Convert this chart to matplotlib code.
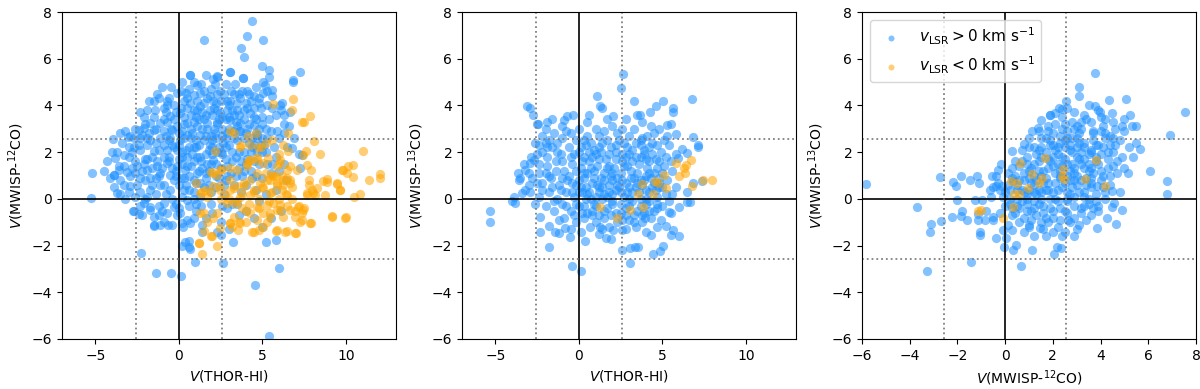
import matplotlib.pyplot as plt
from matplotlib.ticker import MultipleLocator
import numpy as np

# ---- panel 1: V(THOR-HI) vs V(MWISP-12CO) ----
hi_co12_pos = [
    (0.64,5.31),(1.64,5.31),(2.27,5.24),(3.03,5.43),(3.83,5.17),
    (1.08,4.89),(2.17,4.93),(3.37,4.93),(-1.02,4.81),(-0.12,4.53),
    (0.44,4.53),(0.88,4.46),(1.28,4.53),(1.87,4.39),(2.47,4.6),(4.07,4.6),(4.47,4.39),
    (-1.22,4.31),(-0.72,4.17),(0.28,4.17),(0.68,4.1),(1.48,4.1),(2.07,4.17),(3.07,4.17),(3.67,4.31),
    (-2.31,3.7),(-1.42,3.81),(-0.92,3.89),(-0.52,3.53),(0.08,3.67),(0.88,3.81),(1.28,3.96),(1.87,3.81),
    (2.47,3.67),(2.87,3.81),(3.47,3.81),(4.27,3.67),
    (-1.71,3.24),(-1.12,3.24),(-0.72,3.31),(-0.12,3.1),(0.48,3.24),(1.08,3.1),(1.67,3.24),(2.27,3.31),
    (3.07,3.39),(3.67,3.24),(4.47,3.17),
    (-2.41,2.96),(-2.11,3.03),(-1.52,2.96),(-0.92,2.89),(-0.42,2.96),(0.48,2.74),(1.28,2.74),(2.17,2.81),
    (3.67,2.89),(4.67,2.74),
    (-3.95,2.57),(-2.71,2.6),(-2.21,2.74),(-1.71,2.53),(-1.12,2.6),(-0.52,2.6),(0.08,2.53),(0.88,2.24),
    (1.87,2.31),(2.67,2.39),
    (-3.81,1.74),(-3.31,1.86),(-2.71,2.24),(-2.31,2.1),(-1.91,2.31),(-1.52,2.03),(-0.72,2.1),(-0.12,2.1),
    (0.48,1.81),(1.28,1.81),(2.07,1.67),
    (-3.61,1.24),(-3.11,1.17),(-2.51,1.39),(-1.91,1.24),(-1.32,1.39),(-0.72,1.53),(-0.12,1.39),(0.38,1.24),(1.08,1.1),
    (-3.87,1.03),(-3.51,0.81),(-2.91,0.96),(-2.31,0.89),(-1.71,0.89),(-1.12,1.1),(-0.52,1.03),(0.28,0.89),(1.28,0.67),
    (-3.71,0.24),(-2.91,0.53),(-2.31,0.31),(-1.71,0.39),(-1.12,0.6),(-0.52,0.39),(0.28,0.39),(0.88,0.31),
    (-2.11,-0.19),(-1.71,-0.33),(-0.92,-0.19),(-0.32,-0.33),(0.48,-0.04),(1.28,0.1),
    (-2.71,-0.54),(-2.21,-0.69),(-1.52,-0.76),(-0.72,-0.61),(0.08,-0.61),(0.48,-0.9),
    (-1.52,-1.11),(-0.92,-0.97),(-0.42,-1.11),(0.18,-1.04),(0.68,-1.04),
    (0.38,-1.83),(0.58,-2.04),
    (4.35,7.6),(1.48,6.8),(4.09,6.96),(5.04,6.8),(3.69,6.46),(3.89,6.07),(4.99,5.7),(5.42,5.5),(5.42,5.23),
    (7.24,5.43),(6.82,5.1),(6.82,5.0),(3.05,5.41),(0.66,5.3),(2.07,5.14),(2.31,5.21),(3.85,5.17),(5.06,4.99),
    (5.16,4.89),(5.06,4.53),(5.56,4.39),(6.16,4.1),(-3.05,2.64),(-5.22,1.11),(-5.24,0.03),(-3.9,1.03),
    (-3.55,0.2),(-2.77,-0.5),(-2.37,-0.64),(-1.73,-0.47),(-2.27,-2.33),(-1.36,-3.19),(-0.46,-3.16),
    (0.14,-3.29),(0.96,-2.69),(2.63,-2.74),(4.55,-3.7),(6.02,-2.96),(5.42,-5.86),(5.24,-1.86),(5.8,-1.76),
    (3.21,-1.86),(2.55,-1.56),(0.64,-2.16),(0.16,-2.0),(0.58,-1.81),(-1.5,-1.16),(-1.12,-1.13),
    (-0.66,-1.13),(0.24,-1.21),(1.36,-1.13),(1.38,-1.43),
    (5.56,4.67),(6.06,4.03),(6.66,3.74),(6.76,2.17),(7.36,1.89),(7.26,1.31),(4.8,4.3),(5.3,4.0),(5.8,3.6),
    (6.3,3.2),(5.0,3.5),(4.5,3.9),(4.0,4.1),(3.3,4.5),(2.8,4.9),(3.0,3.0),(3.5,2.5),(4.0,2.8),(4.5,2.3),
    (5.0,2.6),(5.5,2.9),(6.0,2.6),(6.5,2.2),(5.2,2.0),(5.8,1.8),(3.2,2.0),(3.7,1.6),(4.3,1.2),(4.8,1.5),
    (2.6,1.9),(2.9,1.4),(3.4,1.0),(4.0,0.6),(4.6,0.4),(5.2,0.2),(3.5,-0.2),(4.0,-0.5),(4.5,-0.8),(5.0,-1.2),
    (5.5,-0.8),(6.1,-0.5),(2.0,-0.6),(2.5,-1.0),(3.0,-1.3),(2.2,0.5),(2.7,0.2),(1.8,1.2),(1.5,0.5),(2.4,3.4),
    (3.2,3.8),(3.9,3.4),(4.8,3.0),(5.4,3.4),(6.1,3.8),(2.5,4.2),(1.5,4.6),(1.0,3.5),(0.2,2.9),(0.6,2.2),
    (1.5,2.5),(2.3,2.0),(0.0,1.7),(-0.3,0.8),(0.2,0.1),(0.6,-0.3),(1.0,-0.5),(1.6,-0.8),(2.9,-0.4),(3.3,0.6),
    (6.6,3.1),(6.9,2.6),(7.2,1.9),(6.0,1.2),(5.5,1.1),(6.4,0.8),
    (-0.8,3.7),(-0.3,4.0),(0.3,3.5),(0.7,3.0),(1.2,3.4),(1.7,3.0),(2.0,3.6),(2.6,3.0),(3.3,2.6),(-1.4,2.4),
    (-0.9,1.8),(-0.4,2.3),(0.2,2.0),(0.9,1.6),(1.6,1.9),(2.2,2.6),(2.8,2.2),(-1.3,1.6),(-0.4,1.3),(0.6,1.0),
    (1.4,1.3),(-2.0,1.7),(-2.6,1.6),(-3.0,1.8),(-2.2,1.2),(-1.6,0.6),(-0.8,0.2),(0.0,0.6),(0.9,0.0),(1.9,0.3),
    (-3.3,0.6),(-2.6,0.1),(-1.2,-0.3),(-0.2,-0.2),(1.1,3.8),(0.5,4.3),(1.9,4.7),(2.9,4.2),(3.6,3.6),(4.2,3.2),
    (4.4,2.6),(3.9,2.0),(-1.8,4.2),(-1.5,3.5),(-2.0,3.2),(-2.6,3.0),(-3.4,2.4),(-3.7,2.0),(-4.3,1.6),
    (-1.9,3.8),(-1.3,4.5),(-0.5,4.8),(0.1,4.6),(0.9,5.0),(1.6,3.6),(2.3,3.8),(2.7,4.5),(3.4,3.3),(4.1,3.9),
    (-2.8,2.0),(-2.3,2.6),(-1.8,2.8),(-1.2,2.1),(-0.6,2.5),(0.3,2.6),(0.8,2.8),(1.2,2.3),(1.9,2.7),(2.4,2.2),
    (-2.6,1.1),(-1.9,1.7),(-1.0,1.3),(-0.6,1.8),(0.2,1.5),(0.7,1.4),(1.1,1.8),(1.7,1.5),(2.2,1.5),(2.6,2.7),
    (-2.5,0.6),(-2.0,0.8),(-1.4,0.9),(-0.9,0.6),(-0.2,1.0),(0.4,0.6),(1.0,0.7),(1.6,0.9),(2.4,0.9),(2.9,1.0),
    (-3.0,0.3),(-1.9,0.1),(-1.4,0.2),(-0.4,0.0),(0.6,0.4),(1.3,-0.3),(1.9,-0.2),(2.6,-0.3),(3.2,-0.2),(3.7,0.3),
    (3.6,2.9),(4.3,2.0),(4.9,2.3),(5.3,1.5),(3.9,1.2),(4.4,0.9),(5.0,0.9),(3.1,4.6),(4.6,4.8),(5.3,4.6),
    (-3.2,2.9),(-3.6,1.4),(-4.1,0.9),(-2.3,-0.3),(-1.2,-0.7),(-0.1,-0.7),(0.9,-0.8),(2.3,-1.4),(3.6,-0.7),(4.8,-0.1),
    (3.8,4.6),(4.3,4.2),(4.9,3.9),(5.6,3.9),(6.3,3.6),(5.9,2.9),(5.0,2.0),(4.6,3.4),(3.0,3.5),(2.2,4.1),
    (1.3,4.9),(0.2,5.0),(-0.6,4.3),(-1.5,4.2),(-2.1,3.5),(-2.9,2.7),(-3.5,2.8),(-3.0,2.2),(-4.0,2.0),(-4.5,1.2),
    (-3.9,0.5),(-3.2,0.0),(-2.0,0.0),(-1.0,-0.5),(0.0,-0.4),(1.0,-0.2),(1.8,0.6),(2.7,0.6),(3.6,1.3),(4.1,1.7),
    (4.6,1.0),(5.6,1.5),(5.8,0.4),(6.3,1.5),(6.3,2.8),(5.7,2.2),(3.2,1.6),(2.0,2.2),(1.0,2.5),(0.0,2.3),
    (-0.9,2.3),(-1.6,1.3),(-0.3,3.4),(0.7,3.6),(1.4,3.0),(2.1,3.0),(2.8,3.4),(3.5,4.1),(4.6,2.8),(5.2,3.0),
    (-0.7,4.0),(0.1,3.9),(0.6,4.7),(1.1,4.2),(1.7,4.3),(2.3,4.5),(3.0,4.0),(3.6,4.5),(4.2,4.5),(4.8,4.1),
    (-0.9,3.4),(-0.2,3.7),(0.5,3.9),(1.4,3.7),(2.1,3.9),(2.6,3.5),(3.3,3.6),(3.9,3.8),(4.5,3.5),(5.0,3.2),
    (-0.5,3.0),(0.3,3.2),(0.9,3.3),(1.5,3.4),(2.3,3.2),(2.9,2.8),(3.5,3.1),(4.1,3.0),(4.7,2.6),(5.3,2.6),
    (-0.8,2.7),(0.0,2.8),(0.7,2.6),(1.6,2.7),(2.0,2.5),(2.8,2.6),(3.3,2.9),(3.9,2.6),(4.4,2.2),(5.1,2.3),
    (-0.3,2.2),(0.4,2.1),(1.0,2.2),(1.8,2.1),(2.5,2.0),(3.0,2.3),(3.6,2.0),(4.2,2.4),(4.7,2.0),
    (-0.6,1.6),(0.2,1.8),(0.8,1.9),(1.3,1.6),(2.0,1.9),(2.8,1.7),(3.4,1.8),(4.0,1.5),(4.5,1.6),
    (-0.2,1.2),(0.5,1.4),(1.2,1.2),(1.9,1.5),(2.5,1.3),(3.1,1.1),(3.8,1.0),(0.1,0.9),(0.9,0.8),(1.6,1.1),
    (2.2,1.0),(2.8,0.8),(-1.4,3.0),(-1.9,2.6),(-2.4,2.3),(-1.6,1.8),(-2.1,1.5),(-1.2,1.0),(-2.8,1.3),(-3.3,1.4),
]
hi_co12_neg = [
    (11.0,2.07),(12.05,1.07),(12.05,0.91),(11.41,0.79),(10.45,0.93),(10.15,1.41),(10.4,1.46),(9.79,1.24),
    (10.05,1.1),(9.65,0.39),(9.45,0.63),(10.85,0.2),(10.51,0.1),(9.99,-0.79),(9.15,-0.73),(8.75,0.17),
    (8.89,0.86),(8.65,0.77),(8.45,1.9),(7.86,3.56),(7.5,3.31),(7.36,3.27),(6.8,3.79),(6.82,4.27),(5.66,4.07),
    (8.06,2.49),(7.62,2.03),(7.42,1.87),(7.66,1.46),(7.92,1.24),(7.8,0.81),(7.8,0.6),(7.96,0.39),(7.7,0.17),
    (8.14,0.17),(7.52,-0.4),(7.22,-0.3),(7.36,-0.61),(6.96,-0.54),(7.92,-1.04),(7.26,-1.01),(6.94,-1.47),
    (6.46,-1.37),(5.8,-1.36),(6.26,-0.76),(6.06,-0.26),(5.66,-0.19),(6.66,1.39),(7.06,1.24),(6.56,2.03),
    (6.26,2.31),(6.56,2.81),(6.06,1.67),(5.86,1.39),(5.66,0.96),(6.26,0.81),(6.66,0.67),(4.27,0.81),
    (3.87,0.67),(3.47,0.53),(3.07,0.39),(3.17,-1.19),(3.67,-1.04),(4.47,-1.4),(4.67,-0.9),(5.06,-1.19),
    (5.46,-0.61),(5.86,-0.47),(3.27,2.81),(3.67,2.24),(4.17,1.67),(4.67,1.81),(5.06,1.53),(5.36,1.74),
    (1.04,0.67),(1.38,0.29),(1.28,-0.61),(1.2,-1.9),(1.36,-2.36),(2.27,-2.0),(1.93,-1.61),(1.52,-1.36),
    (2.19,2.03),(3.07,2.89),(2.61,1.27),(3.03,1.31),(1.93,1.17),(2.27,1.03),(2.07,0.53),(2.47,0.39),
    (1.67,0.1),(2.87,-0.19),(3.27,-0.76),(3.07,-1.04),(3.51,-1.33),(4.11,2.67),(4.59,2.81),(4.27,2.31),
    (4.71,2.24),(4.07,1.53),(4.67,1.67),(3.69,2.29),
    (5.0,0.5),(5.3,0.8),(5.6,0.3),(5.9,0.6),(6.2,0.4),(6.5,0.9),(6.8,0.5),(5.2,1.1),(5.8,1.0),(6.4,0.2),
    (4.5,0.3),(4.8,0.0),(3.8,0.2),(4.2,-0.2),(5.4,-0.1),(6.0,0.0),(6.8,0.0),(2.5,0.0),(3.0,0.0),(3.5,-0.1),
    (2.3,-0.6),(4.0,-0.5),(4.8,-0.4),(6.5,-0.3),(5.2,2.4),(5.6,2.5),(4.9,2.2),(6.0,1.9),
    (1.18,-1.9),(1.48,-0.61),(1.67,-0.97),(1.97,-1.61),(2.07,-0.83),(2.47,-1.26),(3.07,-1.04),(3.57,-0.97),
    (3.99,-0.97),(4.37,-1.4),(4.77,-1.33),(5.06,-0.61),(5.26,-0.97),(5.86,-1.33),(6.36,-1.4),(7.02,-1.47),
    (6.96,-0.76),(7.36,-0.9),(7.86,-1.04),(7.46,-0.47),(9.15,-0.76),(9.95,-0.83),(5.46,-0.76),(4.27,-0.61),
    (3.77,-0.4),(3.37,-0.19),(4.67,-0.33),(6.06,-0.47),(6.66,-0.47),(7.16,-0.33),(1.28,0.24),(1.87,0.31),
    (2.47,0.53),(3.27,0.46),(3.87,0.53),(4.47,0.39),(5.06,0.46),(5.46,0.81),(5.86,0.67),(6.26,0.6),
    (5.56,1.03),(6.16,0.96),(6.66,0.81),(6.46,1.24),(6.06,1.53),(7.66,0.24),(8.05,0.24),(8.25,0.46),
    (8.85,0.74),(9.45,0.67),(9.65,0.39),(9.85,1.24),(3.47,1.24),(4.07,1.39),(4.67,1.1),(4.27,1.67),
    (2.47,1.24),(2.07,1.1),(3.07,0.81),(3.67,0.1),(4.27,0.17),(5.46,0.24),(6.46,0.17),(4.87,0.67),
    (1.58,0.39),(2.77,0.17),(5.26,-0.26),
]

# ---- panel 2: V(THOR-HI) vs V(MWISP-13CO) ----
hi_co13_pos = [
    (2.63,5.36),(2.55,4.76),(1.08,4.39),(1.24,3.99),(1.36,3.89),(3.27,4.17),(5.02,4.21),(4.63,3.96),
    (4.23,3.74),(3.67,3.6),(5.66,3.89),(5.66,3.7),(5.3,3.17),(6.76,4.27),(6.82,2.64),(7.16,2.31),(7.12,2.24),
    (-3.11,3.96),(-2.91,3.89),(-2.75,3.6),(2.07,3.53),(0.62,3.6),(-0.72,3.53),(-0.36,3.6),(-0.92,3.39),
    (-1.62,3.41),(-1.91,3.31),(-2.47,3.21),
    (-5.34,-0.51),(-5.34,-1.01),(-3.99,-0.11),(-3.81,-0.19),(-3.9,0.1),(-3.41,0.27),(-3.61,0.81),(-3.67,1.1),
    (-3.21,1.24),(-2.87,1.81),(-2.91,1.53),(-2.71,1.67),(-2.41,2.29),(-1.91,2.24),(-2.31,-0.76),(-2.35,-1.43),
    (-1.81,-1.16),(-1.81,-2.04),(-1.42,-1.4),(-1.22,-1.47),(-0.82,-1.26),(-0.56,-1.64),(-0.42,-2.86),
    (0.1,-3.11),(0.34,-1.79),(1.2,-1.51),(1.62,-1.66),(1.91,-1.73),(2.61,-2.21),(3.03,-2.11),(3.07,-2.73),
    (3.33,-2.04),(3.51,-2.07),(4.43,-2.36),(4.83,-2.23),(5.02,-2.0),(4.31,-1.54),(5.22,-1.16),(5.52,-1.54),
    (5.62,-1.33),(6.0,-1.57),(5.4,-0.57),(5.98,-0.36),(6.66,-0.14),(6.46,-0.14),(6.5,0.31),(6.82,0.67),
    (7.36,0.77),(5.96,1.74),(6.46,1.96),(6.16,2.13),(5.82,2.77),(1.24,-1.21),(0.68,-1.19),(2.07,-1.33),
    (2.59,-1.33),(3.27,-1.01),(3.97,-0.83),(4.67,-1.19),
    (-2.5,3.2),(-2.0,3.0),(-1.5,2.8),(-1.0,2.6),(-0.5,2.8),(-0.2,2.5),(0.5,2.7),(1.0,3.0),(1.5,2.9),(2.0,3.1),
    (2.8,3.4),(3.3,3.0),(3.8,3.3),(4.3,3.1),(4.8,3.0),(5.3,2.7),
    (-2.6,2.4),(-2.2,2.0),(-1.6,2.2),(-1.1,1.9),(-0.6,2.2),(0.0,2.0),(0.4,2.3),(0.9,2.1),(1.4,2.4),(1.9,2.2),
    (2.4,2.5),(2.9,2.2),(3.4,2.4),(3.9,2.1),(4.4,2.4),(4.9,2.0),(5.4,2.3),(5.8,1.9),
    (-3.3,1.5),(-2.4,1.5),(-1.9,1.4),(-1.4,1.6),(-0.9,1.2),(-0.4,1.5),(0.1,1.3),(0.6,1.6),(1.1,1.4),(1.6,1.7),
    (2.1,1.3),(2.6,1.6),(3.1,1.2),(3.6,1.5),(4.1,1.3),(4.6,1.7),(5.1,1.4),(5.6,1.2),
    (-3.5,0.9),(-2.8,0.9),(-2.2,0.7),(-1.7,0.9),(-1.2,0.6),(-0.7,0.8),(-0.2,0.6),(0.3,0.9),(0.8,0.7),(1.3,0.9),
    (1.8,0.6),(2.3,0.9),(2.8,0.7),(3.3,0.9),(3.8,0.6),(4.3,0.9),(4.8,0.5),(5.3,0.8),
    (-2.9,0.3),(-2.4,0.1),(-1.8,0.3),(-1.3,0.0),(-0.8,0.3),(-0.3,0.1),(0.2,0.3),(0.7,0.0),(1.2,0.3),(1.7,0.1),
    (2.2,0.4),(2.7,0.1),(3.2,0.3),(3.7,0.0),(4.2,0.3),(4.7,0.1),(5.2,0.2),(5.8,0.5),
    (-2.0,-0.3),(-1.5,-0.5),(-1.0,-0.2),(-0.5,-0.5),(0.0,-0.3),(0.5,-0.6),(1.0,-0.3),(1.5,-0.5),(2.0,-0.2),
    (2.5,-0.6),(3.0,-0.3),(3.5,-0.5),(4.0,-0.2),(4.5,-0.5),(5.0,-0.3),(5.5,-0.6),
    (-1.2,-0.9),(-0.2,-1.0),(0.3,-0.8),(1.0,-1.0),(1.5,-0.8),(2.3,-1.0),(3.0,-0.9),(3.8,-1.0),(4.3,-0.8),(4.9,-0.9),
    (0.3,1.8),(1.0,1.9),(1.8,1.9),(2.6,1.9),(3.4,1.8),(4.0,1.7),(0.5,1.1),(1.5,1.1),(2.5,1.1),(3.5,1.1),
    (4.5,1.1),(0.4,0.5),(1.4,0.5),(2.4,0.5),(3.4,0.5),(4.4,0.5),(1.0,0.1),(2.0,-0.1),(3.0,0.0),(4.0,0.0),
    (-1.0,3.1),(0.0,3.0),(1.7,3.4),(2.3,2.8),(3.0,2.7),(3.8,2.6),(4.5,2.8),(5.1,2.5),(-2.2,2.7),(-1.3,2.4),
    (-0.3,1.9),(0.6,2.0),(1.3,2.0),(2.2,2.0),(3.0,1.9),(3.7,2.3),(4.4,1.9),(5.2,1.8),(-2.0,1.1),(-1.4,1.2),
    (-0.6,1.0),(0.0,0.8),(0.9,1.2),(1.9,1.0),(2.9,1.4),(4.0,1.0),(5.0,1.1),(-1.6,0.5),(-0.4,0.3),(0.5,0.2),
    (1.5,0.2),(2.5,0.3),(3.6,0.3),(4.6,0.4),(5.4,-0.1),(-0.8,-0.3),(0.3,-0.3),(1.2,-0.7),(2.2,-0.6),(3.3,-0.7),
    (4.2,-0.5),(-2.6,-0.2),(-3.0,0.6),(-2.4,1.1),(0.1,-1.4),(1.8,-1.2),(2.8,-1.3),(4.0,-1.4),(-0.5,-1.3),(5.0,0.5),
    (-1.8,2.5),(-0.8,2.9),(0.3,2.5),(1.2,2.7),(2.6,3.0),(3.5,3.6),(4.1,2.7),(5.5,3.2),(-3.0,1.1),(-2.5,1.9),
    (-1.0,1.6),(0.8,1.8),(1.8,1.4),(2.8,1.8),(3.9,1.9),(4.8,1.6),(5.5,1.6),(-2.2,0.4),(-1.1,0.4),(0.0,0.3),
    (1.1,0.6),(2.0,0.8),(3.0,0.5),(3.9,0.8),(4.8,0.9),(-1.5,-0.1),(-0.3,-0.7),(0.8,-0.5),(1.9,-0.7),(2.8,-0.4),
    (3.8,-0.7),(4.7,-0.2),(5.6,0.2),(-0.9,-0.8),(2.6,-0.9),(1.4,-1.3),(3.4,-1.2),(-3.2,0.4),(-1.9,1.8),(0.5,3.3),
    (0.1,2.2),(0.7,2.4),(1.2,2.2),(1.7,2.5),(2.2,2.3),(2.7,2.4),(3.2,2.1),(3.7,2.5),(4.2,2.2),(4.7,2.3),
    (-0.5,1.8),(0.2,1.6),(0.7,1.3),(1.2,1.7),(1.7,1.3),(2.2,1.7),(2.7,1.4),(3.2,1.6),(3.7,1.8),(4.2,1.6),(4.7,1.3),
    (-0.2,1.2),(0.3,1.1),(0.9,0.9),(1.5,0.8),(2.0,1.1),(2.6,0.8),(3.1,0.9),(3.7,0.8),(4.2,1.1),(4.8,0.7),
    (-0.4,0.7),(0.1,0.5),(0.6,0.3),(1.2,0.5),(1.8,0.3),(2.3,0.6),(2.9,0.3),(3.5,0.7),(4.0,0.4),(4.5,0.7),
    (-0.2,-0.2),(0.4,0.0),(0.9,-0.2),(1.4,0.0),(2.0,0.2),(2.5,-0.2),(3.2,-0.1),(3.7,-0.3),(4.2,-0.1),(4.7,-0.4),
    (0.2,-0.6),(0.8,-0.7),(1.7,-0.4),(2.8,-0.7),(3.9,-0.6),(-1.3,2.0),(-1.8,1.0),(-2.5,0.7),(-2.0,2.4),(-1.0,0.9),
]
hi_co13_neg = [
    (5.82,1.53),(6.72,1.66),(6.42,1.43),(6.3,1.31),(6.36,1.1),(6.02,0.96),(7.46,0.81),(7.98,0.81),(6.76,0.56),
    (5.12,1.03),(4.73,0.7),(4.57,0.77),(3.77,0.64),(5.22,0.46),(4.41,0.2),(3.53,0.2),(1.26,-0.37),(3.83,-0.37),
    (3.03,-0.47),(2.27,-0.84),
]

# ---- panel 3: V(MWISP-12CO) vs V(MWISP-13CO) ----
co12_co13_pos = [
    (-5.83,0.64),(-3.68,-0.37),(-3.29,-3.11),(-3.17,-1.4),(-3.11,-1.07),(-2.69,-0.93),(-2.73,0.93),(-2.24,-0.79),
    (-2.17,0.74),(-2.07,0.56),(-2.03,-0.07),(-1.86,0.99),(-1.82,-0.54),(-1.85,-0.73),(-1.58,-0.9),(-1.47,0.79),
    (-1.43,-2.71),(-1.26,-0.07),(-1.19,1.0),(-1.08,0.67),(-0.98,-0.04),(-1.12,-0.9),(-1.05,-1.4),(-1.05,-1.54),
    (-1.15,-0.64),(-0.84,-0.9),(-0.63,0.36),(-0.56,0.96),(-0.52,-0.76),(-0.38,-1.69),(-0.28,1.24),(-0.17,1.5),
    (-0.14,0.53),(-0.07,-1.33),(-0.03,-2.04),(0.04,-1.69),(0.28,2.07),(0.28,-1.33),(0.34,-2.19),(0.46,-1.97),
    (0.66,-2.86),(0.77,2.34),(0.98,2.24),(1.12,-2.21),(1.47,-1.23),(1.71,-1.61),(2.06,-2.37),(2.17,-2.04),
    (2.34,-2.09),(2.52,-1.4),(2.63,-0.9),(3.02,-1.3),(2.24,3.89),(2.38,3.86),(2.55,4.17),(3.08,4.39),(3.1,4.77),
    (3.75,5.37),(3.78,3.96),(3.99,3.74),(4.34,4.24),(5.08,4.27),(4.48,3.67),(4.97,3.43),(5.24,3.6),(5.31,3.14),
    (5.5,3.13),(5.5,2.41),(5.66,2.14),(6.06,1.21),(5.15,1.1),(5.36,1.81),(6.78,0.77),(6.78,0.21),(6.9,2.74),
    (7.55,3.74),(4.9,-0.47),(4.55,-0.19),(4.48,-0.33),(4.66,-1.09),(4.29,-0.8),(3.85,-1.26),(4.49,0.34),
    (3.85,0.53),(2.1,3.67),(1.89,3.6),(1.51,3.39),(1.79,3.13),(1.12,2.89),(1.37,3.03),(0.35,0.77),(-0.38,0.53),
    (0.0,0.3),(0.3,0.9),(0.6,1.4),(0.9,1.8),(1.2,2.2),(1.5,2.6),(1.8,2.9),(2.1,3.2),(2.4,3.5),(2.8,3.3),
    (3.2,3.0),(3.6,3.3),(4.0,2.9),(4.4,2.7),(4.8,2.5),
    (0.2,-0.2),(0.5,0.4),(0.8,0.8),(1.1,1.3),(1.4,1.6),(1.7,2.0),(2.0,2.3),(2.3,2.7),(2.6,2.9),(3.0,2.6),
    (3.3,2.2),(3.7,2.5),(4.1,2.2),(4.5,2.0),(4.9,1.8),
    (0.4,-0.6),(0.7,-0.1),(1.0,0.4),(1.3,0.8),(1.6,1.2),(1.9,1.6),(2.2,1.9),(2.5,2.2),(2.8,2.0),(3.1,1.7),
    (3.5,1.9),(3.9,1.5),(4.3,1.3),(4.7,1.1),
    (0.6,-1.0),(0.9,-0.5),(1.2,-0.1),(1.5,0.3),(1.8,0.7),(2.1,1.1),(2.4,1.4),(2.7,1.2),(3.0,1.0),(3.3,1.3),
    (3.6,0.9),(4.0,0.8),(4.4,0.6),
    (1.0,-1.2),(1.3,-0.7),(1.6,-0.3),(1.9,0.0),(2.2,0.4),(2.5,0.7),(2.8,0.5),(3.1,0.3),(3.4,0.6),(3.8,0.2),(4.2,0.0),
    (1.6,-1.3),(2.0,-0.8),(2.3,-0.4),(2.6,-0.1),(2.9,-0.3),(3.2,-0.6),(3.5,-0.2),(3.9,-0.5),
    (2.2,-1.2),(2.7,-1.0),(3.1,-1.1),(3.4,-0.9),
    (-0.3,0.7),(-0.6,0.1),(-0.8,-0.5),(-0.2,-0.6),(-0.4,1.0),(0.1,1.1),(0.4,1.6),(0.7,2.1),(1.0,2.6),(1.4,2.9),
    (1.9,3.6),(2.6,3.9),(3.3,3.6),(3.5,4.0),(4.2,3.4),(4.6,3.0),(5.0,2.9),
    (1.5,1.0),(2.0,1.8),(2.5,1.7),(3.0,2.2),(3.5,1.5),(4.0,1.9),(2.3,2.4),(2.8,2.6),(1.2,0.6),(1.7,0.4),
    (2.6,1.0),(3.2,0.8),(3.7,1.1),(4.3,1.7),(4.6,2.3),(2.9,3.7),(3.9,3.8),(4.1,3.1),(5.2,2.2),(5.0,1.3),
    (4.4,1.0),(4.8,0.3),(3.6,-0.7),(2.4,-1.6),(1.2,-1.6),(0.8,-1.4),(-0.5,-0.9),(0.1,-1.1),(1.5,-1.0),
    (2.9,-1.6),(0.5,0.0),(1.0,0.9),(2.0,2.8),
    (1.4,2.1),(1.9,2.5),(2.5,2.5),(3.1,2.4),(3.6,2.1),(4.2,2.6),(2.2,1.5),(2.8,1.5),(3.3,1.7),(3.8,1.8),
    (1.2,1.5),(0.8,1.1),(1.6,0.7),(2.1,0.7),(2.7,0.8),(3.4,0.9),(0.7,0.4),(1.3,0.2),(2.0,0.3),(2.6,0.3),
    (3.3,0.1),(0.3,-0.4),(0.9,-0.2),(1.6,-0.6),(2.2,-0.1),(2.9,0.1),(3.8,-0.1),(1.1,-0.9),(1.8,-1.0),(2.5,-0.5),
    (3.0,3.1),(2.5,3.2),(3.7,2.8),(4.4,2.3),(1.5,2.2),(4.0,1.2),(0.1,0.6),(-0.1,0.1),(0.6,0.8),(4.7,1.6),
    (1.7,2.6),(2.2,2.2),(2.7,2.3),(3.2,2.0),(3.8,2.3),(4.3,2.0),(1.8,1.3),(2.3,1.2),(2.9,1.3),(3.6,1.3),
    (1.0,1.2),(1.4,0.4),(2.3,0.9),(2.9,0.8),(3.6,0.5),(0.5,-0.3),(1.2,-0.4),(1.9,-0.4),(2.6,0.0),(3.3,-0.3),
    (0.2,0.4),(0.9,0.2),(4.1,0.5),(3.2,3.3),(2.4,3.0),(4.5,2.6),(1.3,1.9),(0.3,1.3),(2.0,-1.4),(3.7,-0.4),
    (0.2,0.0),(0.5,0.6),(0.8,0.3),(1.1,0.7),(1.4,1.2),(1.7,0.9),(2.0,1.4),(2.3,1.0),(2.6,1.5),(2.9,1.1),
    (3.2,1.5),(3.5,1.2),(3.8,1.6),
    (0.3,-0.7),(0.6,-0.4),(0.9,0.0),(1.2,0.3),(1.5,0.0),(1.8,0.4),(2.1,0.0),(2.4,0.5),(2.7,0.2),(3.0,0.6),
    (3.3,0.3),(3.6,0.7),
    (0.8,-0.8),(1.1,-0.5),(1.4,-0.2),(1.7,-0.8),(2.0,-0.5),(2.3,-0.9),(2.6,-0.6),(2.9,-0.8),(3.2,-0.4),(3.5,0.0),
    (0.9,1.5),(1.2,1.0),(1.5,1.8),(1.8,1.7),(2.1,2.1),(2.4,1.8),(2.7,2.1),(3.0,1.8),(3.3,2.4),(3.6,2.0),(3.9,2.3),
    (1.9,2.3),(2.6,2.6),(3.1,2.8),(3.7,2.9),(4.2,2.8),(4.5,3.3),(4.9,3.1),(4.0,3.5),(3.4,3.4),(2.9,3.0),
    (0.4,1.0),(0.7,1.6),(-0.2,0.4),(-0.5,0.5),(0.0,-0.3),(4.1,1.0),(4.5,1.4),(4.2,0.3),(3.9,-0.3),(1.0,-1.1),
]
co12_co13_neg = [
    (0.63,1.53),(1.68,1.74),(1.12,1.07),(1.54,0.89),(1.43,0.7),(2.42,1.27),(2.38,1.0),(2.45,0.86),(3.82,1.66),
    (3.33,0.84),(4.2,0.56),(0.25,0.77),(0.48,0.67),(0.95,0.46),(0.36,0.21),(0.56,0.21),(0.32,-0.37),
    (-1.02,-0.47),(-1.12,-0.5),(-0.07,-0.83),
]

panels = [
    (hi_co12_pos, hi_co12_neg, r'$V$(THOR-HI)', r'$V$(MWISP-$^{12}$CO)', (-7, 13), 5),
    (hi_co13_pos, hi_co13_neg, r'$V$(THOR-HI)', r'$V$(MWISP-$^{13}$CO)', (-7, 13), 5),
    (co12_co13_pos, co12_co13_neg, r'$V$(MWISP-$^{12}$CO)', r'$V$(MWISP-$^{13}$CO)', (-6, 8), 2),
]
thresh = 2.57

fig = plt.figure(figsize=(12, 3.89), dpi=100)
lefts = [62, 462, 862]
for i, (pos, neg, xl, yl, xlim, xstep) in enumerate(panels):
    ax = fig.add_axes([lefts[i] / 1200, 50 / 389, 334 / 1200, 327 / 389])
    pos = np.array(pos)
    neg = np.array(neg)
    ax.scatter(pos[:, 0], pos[:, 1], s=44, color='dodgerblue', alpha=0.55, lw=0,
               label=r'$v_{\rm LSR} > 0$ km s$^{-1}$')
    ax.scatter(neg[:, 0], neg[:, 1], s=44, color='orange', alpha=0.55, lw=0,
               label=r'$v_{\rm LSR} < 0$ km s$^{-1}$')
    ax.axhline(0, color='k', lw=1.2)
    ax.axvline(0, color='k', lw=1.2)
    for t in (-thresh, thresh):
        ax.axhline(t, color='gray', ls=':', lw=1.3)
        ax.axvline(t, color='gray', ls=':', lw=1.3)
    ax.set_xlim(*xlim)
    ax.set_ylim(-6, 8)
    ax.xaxis.set_major_locator(MultipleLocator(xstep))
    ax.set_xlabel(xl, fontsize=10)
    ax.set_ylabel(yl, fontsize=10)
    ax.tick_params(labelsize=10)
    if i == 2:
        ax.legend(loc='upper left', fontsize=11, markerscale=0.65)

fig.savefig('out.png', dpi=100)
